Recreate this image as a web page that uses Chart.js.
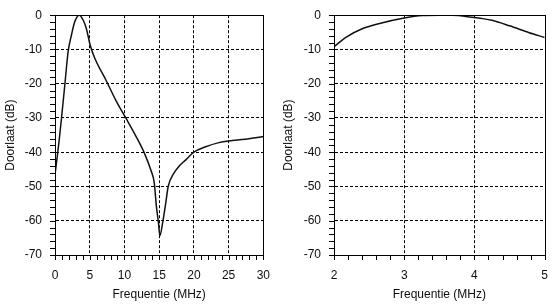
<!DOCTYPE html>
<html>
<head>
<meta charset="utf-8">
<script src="https://cdn.jsdelivr.net/npm/chart.js@4.4.0/dist/chart.umd.min.js"></script>
<style>
  html, body { margin: 0; padding: 0; background: #fff; }
  #wrap { position: relative; width: 556px; height: 307px; }
  .box { position: absolute; top: 0; width: 278px; height: 307px; }
  #b1 { left: 0; }
  #b2 { left: 278px; }
</style>
</head>
<body>
<div id="wrap">
  <div class="box" id="b1"><canvas id="c1"></canvas></div>
  <div class="box" id="b2"><canvas id="c2"></canvas></div>
</div>
<script>
// ---- data ----
const wideFreq = [0, 0.25, 0.6, 0.95, 1.43, 1.9, 2.38, 2.86, 3.5, 4.05, 4.5, 5.1, 5.7, 7.4, 8.8, 10.2, 11.7, 12.9, 13.8, 14.3, 14.6, 14.9, 15.1, 15.5, 15.95, 16.3, 17.1, 17.9, 18.8, 20, 21.7, 23.6, 25, 27.4, 30];
const wideDb   = [-46.5, -42.5, -36.5, -29.8, -20, -10.5, -5.7, -1.8, 0, -1.4, -3.8, -9, -12.4, -19.2, -25, -30, -35.5, -40.4, -45.2, -49, -55.8, -60.6, -64.4, -60.6, -54.8, -50, -46.2, -44, -42.3, -40, -38.4, -37.2, -36.7, -36.2, -35.4];
const narrowFreq = [2, 2.175, 2.41, 2.65, 3.0, 3.26, 3.5, 3.68, 4.0, 4.12, 4.25, 4.5, 4.78, 5];
const narrowDb   = [-9.2, -6.4, -3.9, -2.4, -0.8, -0.1, 0, 0, -0.7, -1.0, -1.5, -3.1, -5.1, -6.5];
const yTitle = 'Doorlaat (dB)';
const xTitle = 'Frequentie (MHz)';

const FONT = { family: "'Liberation Sans', Arial, sans-serif", size: 12 };
const TXT = '#0d0d0d';

// frame round the plot area and small tick marks at every scale tick
const frame = {
  id: 'frame',
  afterDraw(chart) {
    const a = chart.chartArea, ctx = chart.ctx;
    ctx.save();
    ctx.strokeStyle = '#000';
    ctx.lineWidth = 1;
    ctx.strokeRect(Math.round(a.left) + 0.5, Math.round(a.top) + 0.5, Math.round(a.right - a.left), Math.round(a.bottom - a.top));
    const xs = chart.scales.x, ys = chart.scales.y;
    ctx.beginPath();
    xs.ticks.forEach(t => {
      const px = Math.round(xs.getPixelForValue(t.value)) + 0.5;
      ctx.moveTo(px, Math.round(a.bottom));
      ctx.lineTo(px, Math.round(a.bottom) + 5);
    });
    ys.ticks.forEach(t => {
      const py = Math.round(ys.getPixelForValue(t.value)) + 0.5;
      ctx.moveTo(Math.round(a.left) - 5, py);
      ctx.lineTo(Math.round(a.left), py);
    });
    ctx.stroke();
    ctx.restore();
  }
};

function isMult(v, m) { const q = v / m; return Math.abs(q - Math.round(q)) < 1e-6; }

function makeChart(id, xs, ys, xmin, xmax, xMinor, xMajor, yAxisW, padRight) {
  const pts = xs.map((x, i) => ({ x: x, y: ys[i] }));
  return new Chart(document.getElementById(id), {
    type: 'line',
    data: { datasets: [{ data: pts, borderColor: '#111', borderWidth: 1.5, pointRadius: 0, cubicInterpolationMode: 'monotone', fill: false }] },
    options: {
      responsive: true, maintainAspectRatio: false, animation: false,
      events: [],
      layout: { padding: { top: 9, right: padRight, left: 0, bottom: 0 } },
      plugins: { legend: { display: false }, tooltip: { enabled: false } },
      scales: {
        x: {
          type: 'linear', min: xmin, max: xmax,
          afterFit(s) { s.height = 52; },
          ticks: {
            stepSize: xMinor, autoSkip: false, maxRotation: 0, minRotation: 0, padding: 8,
            color: TXT, font: FONT,
            callback: (v) => isMult(v, xMajor) ? String(Math.round(v)) : ''
          },
          grid: {
            color: (c) => (c.tick && isMult(c.tick.value, xMajor) && c.tick.value > xmin + 1e-6 && c.tick.value < xmax - 1e-6) ? '#000' : 'rgba(0,0,0,0)',
            tickColor: 'rgba(0,0,0,0)', tickLength: 5, lineWidth: 1
          },
          border: { color: '#000', width: 1, dash: [3, 2] },
          title: { display: true, text: xTitle, color: TXT, font: FONT, padding: { top: 0, bottom: 5 } }
        },
        y: {
          min: -70, max: 0,
          afterFit(s) { s.width = yAxisW; },
          ticks: {
            stepSize: 2, autoSkip: false, padding: 8, color: TXT, font: FONT,
            callback: (v) => isMult(v, 10) ? String(Math.round(v)) : ''
          },
          grid: {
            color: (c) => (c.tick && isMult(c.tick.value, 10) && c.tick.value > -70 + 1e-6 && c.tick.value < -1e-6) ? '#000' : 'rgba(0,0,0,0)',
            tickColor: 'rgba(0,0,0,0)', tickLength: 5, lineWidth: 1
          },
          border: { color: '#000', width: 1, dash: [3, 2] },
          title: { display: true, text: yTitle, color: TXT, font: FONT, padding: { top: 3, bottom: 0 } }
        }
      }
    },
    plugins: [frame]
  });
}

makeChart('c1', wideFreq, wideDb, 0, 30, 1, 5, 55, 11.3);
makeChart('c2', narrowFreq, narrowDb, 2, 5, 0.2, 1, 56, 7.3);
</script>
</body>
</html>
